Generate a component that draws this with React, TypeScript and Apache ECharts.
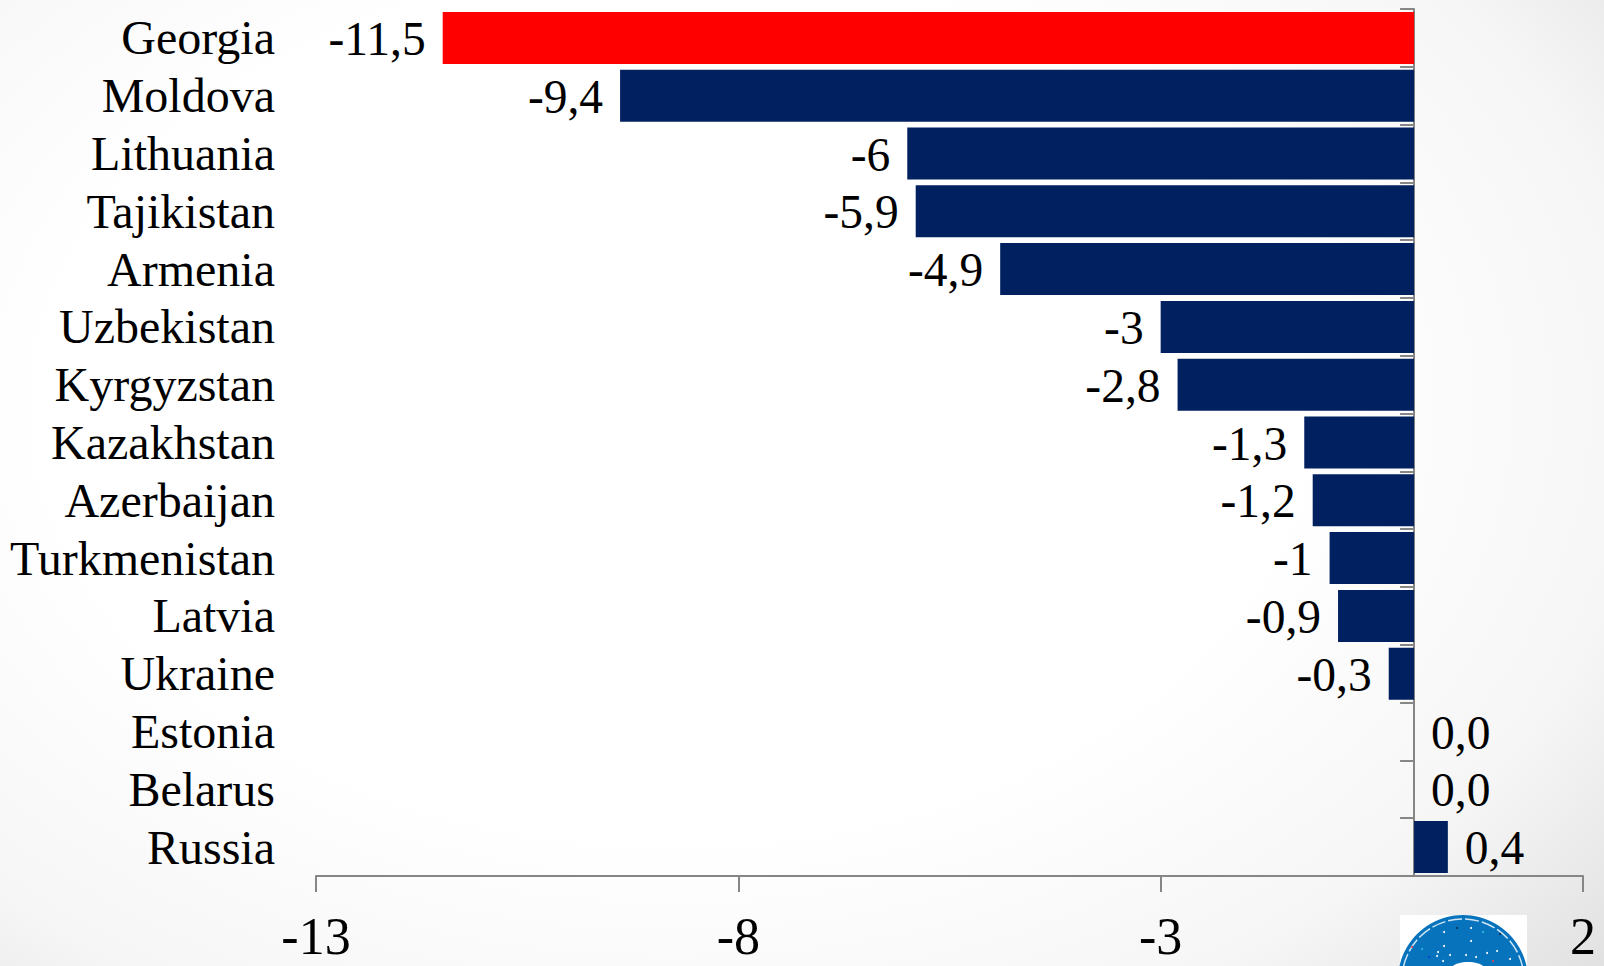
import React, { useEffect, useRef } from "react";
import * as echarts from "echarts";

const countries = ["Georgia","Moldova","Lithuania","Tajikistan","Armenia","Uzbekistan","Kyrgyzstan","Kazakhstan","Azerbaijan","Turkmenistan","Latvia","Ukraine","Estonia","Belarus","Russia"];
const growth = [-11.5,-9.4,-6,-5.9,-4.9,-3,-2.8,-1.3,-1.2,-1,-0.9,-0.3,0,0,0.4];
const growthLabels = ["-11,5","-9,4","-6","-5,9","-4,9","-3","-2,8","-1,3","-1,2","-1","-0,9","-0,3","0,0","0,0","0,4"];
const axisTicks = [-13,-8,-3,2];

const SERIF = '"Liberation Serif", "Times New Roman", serif';
const NAVY = "#002060";
const RED = "#ff0000";
const AXIS = "#868686";

// Speckles on the emblem in the bottom corner
const emblemDots: [number, number, string][] = [
  [1457, 928, "#0b2a4a"], [1471, 928, "#ffffff"], [1444, 932, "#ffffff"], [1483, 932, "#35c0e0"],
  [1471, 941, "#ffffff"], [1444, 946, "#ffffff"], [1412, 947, "#e8404a"], [1422, 949, "#35c0e0"],
  [1438, 952, "#ffffff"], [1437, 956, "#ffffff"], [1450, 955, "#ffffff"], [1466, 955, "#ffffff"],
  [1476, 957, "#ffffff"], [1487, 953, "#ffffff"], [1497, 951, "#ffffff"], [1510, 959, "#ffffff"],
  [1493, 961, "#e8404a"], [1429, 957, "#0a3fd0"], [1443, 961, "#ffffff"], [1500, 934, "#0b2a4a"],
];

export default function App() {
  const ref = useRef<HTMLDivElement>(null);
  useEffect(() => {
    document.body.style.margin = "0";
    const chart = echarts.init(ref.current!, null, { renderer: "svg" });
    chart.setOption({
      animation: false,
      backgroundColor: "transparent",
      grid: { left: 316, right: 21, top: 9, bottom: 90 },
      xAxis: {
        type: "value",
        min: -13,
        max: 2,
        splitLine: { show: false },
        axisLine: { show: true, onZero: false, lineStyle: { color: AXIS, width: 2 } },
        axisTick: { show: true, customValues: axisTicks, length: 16, lineStyle: { color: AXIS, width: 2 } },
        axisLabel: { customValues: axisTicks, color: "#000", fontFamily: SERIF, fontSize: 52, margin: 34, hideOverlap: false, formatter: (v: number) => String(v) },
      },
      yAxis: [
        {
          type: "category",
          inverse: true,
          data: countries,
          position: "left",
          axisLine: { show: false, onZero: false },
          axisTick: { show: false },
          axisLabel: { color: "#000", fontFamily: SERIF, fontSize: 48, margin: 41, interval: 0, padding: [0, 0, 4, 0] },
        },
        {
          type: "category",
          inverse: true,
          data: countries,
          position: "left",
          axisLine: { show: true, onZero: true, lineStyle: { color: AXIS, width: 2 } },
          axisTick: { show: true, length: 14, lineStyle: { color: AXIS, width: 2 } },
          axisLabel: { show: false },
        },
      ],
      series: [
        {
          type: "bar",
          yAxisIndex: 0,
          barCategoryGap: "10%",
          data: growth.map((v, i) => ({
            value: v,
            itemStyle: { color: i === 0 ? RED : NAVY },
            label: { position: v < 0 ? "left" : "right" },
          })),
          label: {
            show: true,
            distance: 17,
            offset: [0, 1],
            color: "#000",
            fontFamily: SERIF,
            fontSize: 47.5,
            formatter: (p: any) => growthLabels[p.dataIndex],
          },
        },
      ],
      graphic: [
        { type: "rect", shape: { x: 1400, y: 915, width: 127, height: 51 }, style: { fill: "#fff" }, silent: true },
        { type: "circle", shape: { cx: 1463, cy: 980, r: 65 }, style: { fill: "#0873bd" }, silent: true },
        { type: "circle", shape: { cx: 1463, cy: 980, r: 61 }, style: { fill: "none", stroke: "#cfe6f5", lineWidth: 1.5, lineDash: [14, 3] }, silent: true },
        { type: "ellipse", shape: { cx: 1468, cy: 968, rx: 16, ry: 6 }, style: { fill: "#fff" }, silent: true },
        ...emblemDots.map(([cx, cy, fill]) => ({ type: "circle", shape: { cx, cy, r: 1 }, style: { fill }, silent: true })),
      ],
    });
    return () => chart.dispose();
  }, []);
  return (
    <div
      ref={ref}
      style={{
        width: 1604,
        height: 966,
        background: "radial-gradient(ellipse 1250px 860px at 42% 42%, #ffffff 50%, #f6f6f6 78%, #e0e0e0 100%)",
      }}
    />
  );
}
